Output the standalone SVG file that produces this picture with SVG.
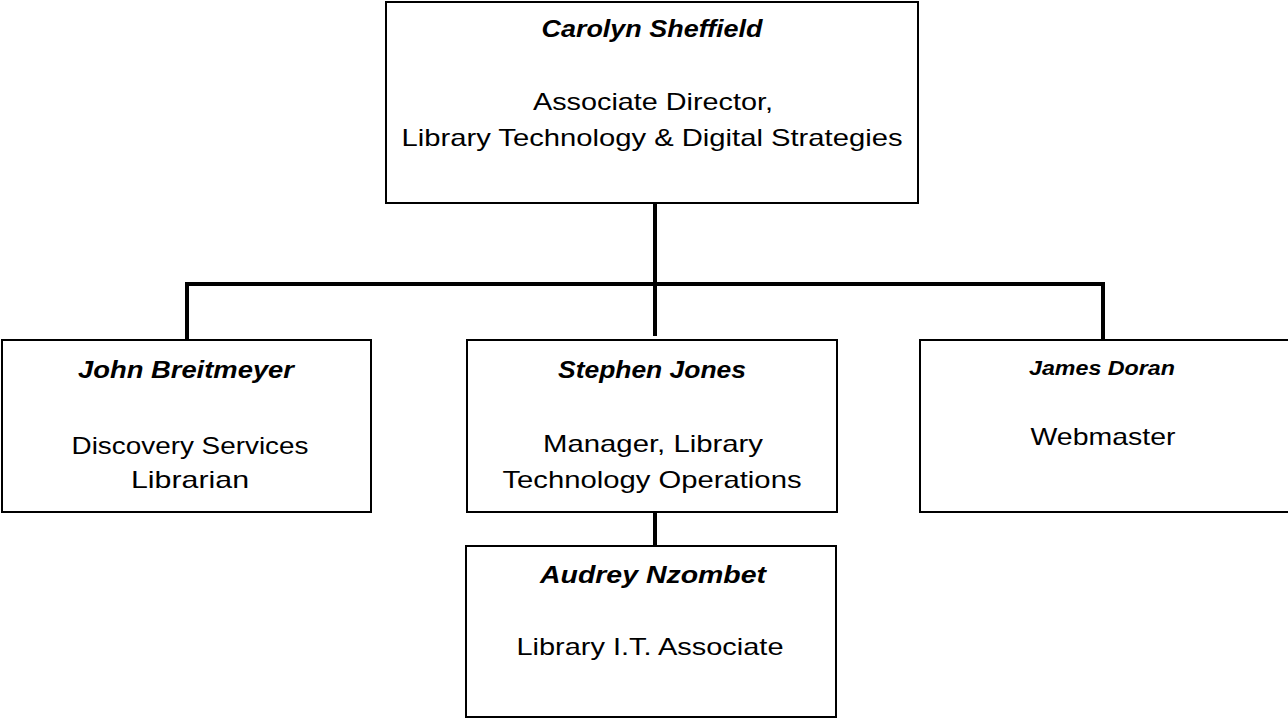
<svg xmlns="http://www.w3.org/2000/svg" width="1288" height="719" viewBox="0 0 1288 719">
<style>
.box{fill:#fff;stroke:#000;stroke-width:2}
.conn{fill:none;stroke:#000;stroke-width:4;stroke-linecap:square}
text{font-family:"Liberation Sans",Arial,sans-serif;text-anchor:middle;fill:#000}
.name{font-weight:bold;font-style:italic;font-size:24px}
.title{font-size:24px}
</style>
<rect width="1288" height="719" fill="#fff"/>
<g id="connectors">
<path class="conn" d="M655 204 V334"/>
<path class="conn" d="M187 284 H1103"/>
<path class="conn" d="M187 284 V339"/>
<path class="conn" d="M1103 284 V339"/>
<path class="conn" d="M655 513 V545"/>
</g>
<g id="carolyn">
<rect class="box" x="386" y="2" width="532" height="201"/>
<text class="name" x="652" y="37" textLength="221" lengthAdjust="spacingAndGlyphs">Carolyn Sheffield</text>
<text class="title" x="653" y="110" textLength="240" lengthAdjust="spacingAndGlyphs">Associate Director,</text>
<text class="title" x="652" y="146" textLength="501" lengthAdjust="spacingAndGlyphs">Library Technology &amp; Digital Strategies</text>
</g>
<g id="john">
<rect class="box" x="2" y="340" width="369" height="172"/>
<text class="name" x="186" y="378" textLength="216" lengthAdjust="spacingAndGlyphs">John Breitmeyer</text>
<text class="title" x="190" y="454" textLength="237" lengthAdjust="spacingAndGlyphs">Discovery Services</text>
<text class="title" x="190" y="488" textLength="118" lengthAdjust="spacingAndGlyphs">Librarian</text>
</g>
<g id="stephen">
<rect class="box" x="467" y="340" width="370" height="172"/>
<text class="name" x="652" y="378" textLength="188" lengthAdjust="spacingAndGlyphs">Stephen Jones</text>
<text class="title" x="653" y="452" textLength="220" lengthAdjust="spacingAndGlyphs">Manager, Library</text>
<text class="title" x="652" y="488" textLength="299" lengthAdjust="spacingAndGlyphs">Technology Operations</text>
</g>
<g id="james">
<rect class="box" x="920" y="340" width="370" height="172"/>
<text class="name" x="1102" y="375" style="font-size:21px" textLength="146" lengthAdjust="spacingAndGlyphs">James Doran</text>
<text class="title" x="1103" y="445" textLength="145" lengthAdjust="spacingAndGlyphs">Webmaster</text>
</g>
<g id="audrey">
<rect class="box" x="466" y="546" width="370" height="171"/>
<text class="name" x="653" y="583" textLength="226" lengthAdjust="spacingAndGlyphs">Audrey Nzombet</text>
<text class="title" x="650" y="655" textLength="267" lengthAdjust="spacingAndGlyphs">Library I.T. Associate</text>
</g>
</svg>
